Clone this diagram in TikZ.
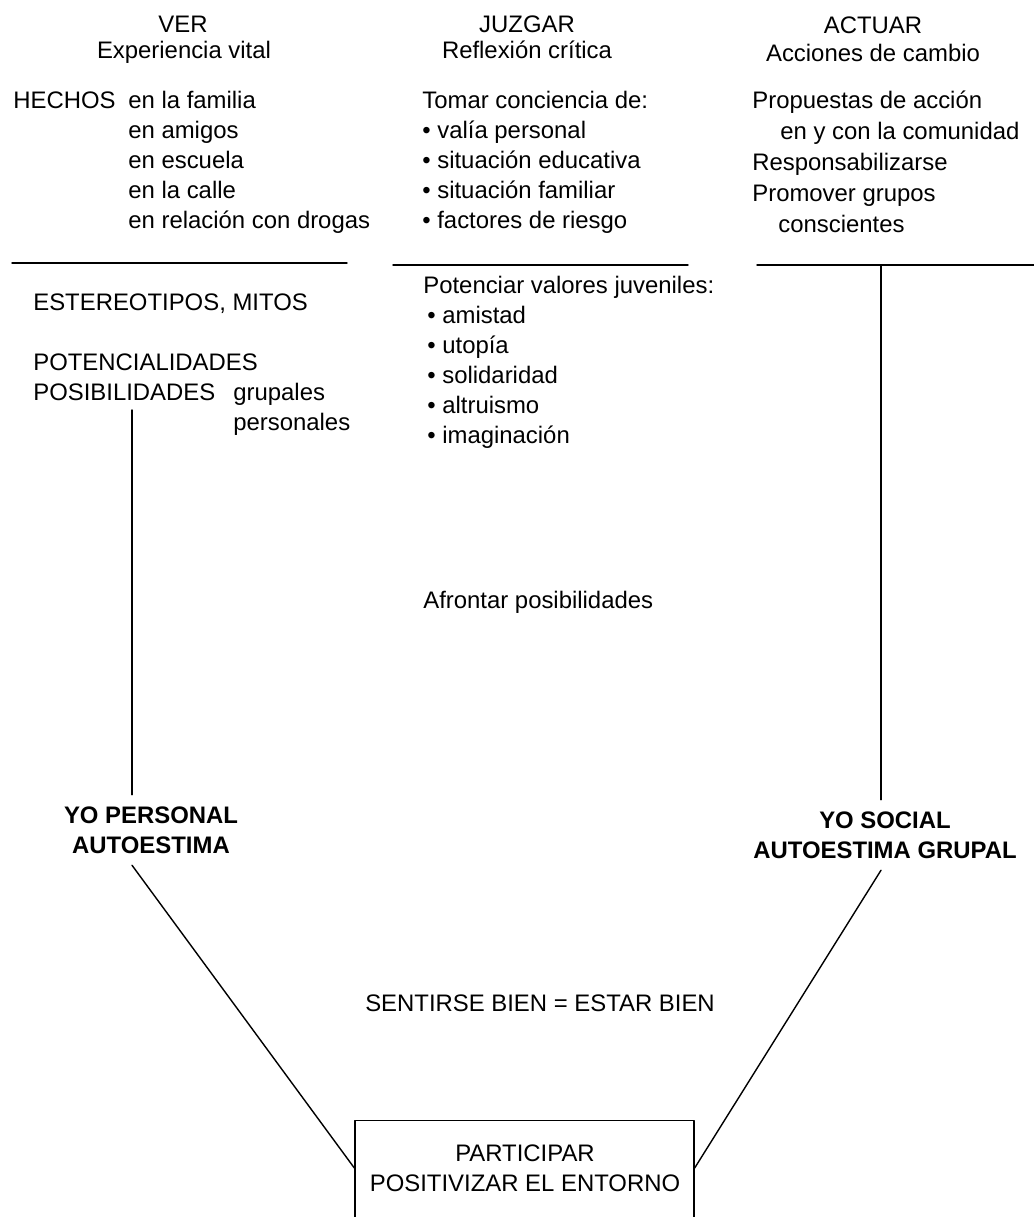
\documentclass[tikz,border=0pt]{standalone}
\usepackage{fontspec}
\setmainfont{Liberation Sans}
\newcommand{\txtfont}{\fontsize{13.6}{17.07}\selectfont}
\tikzset{
  lbl/.style={anchor=base west, inner sep=0pt},
  hd/.style={anchor=base, inner sep=0pt},
  yo/.style={align=center, inner xsep=2pt, inner ysep=6.5pt, font=\txtfont\bfseries},
  rule/.style={line width=0.8pt}
}

\begin{document}
\begin{tikzpicture}[x=0.02cm,y=-0.02cm,line cap=round,line join=round,font=\txtfont]
\useasboundingbox (0,0) rectangle (1034,1217);
\clip (0,0) rectangle (1034,1217);
% headings
\node[hd] (ver) at (183,32) {VER};
\node[hd] (verb) at (184,58) {Experiencia vital};
\node[hd] (juzgar) at (527,32) {JUZGAR};
\node[hd] (juzgarb) at (527,58) {Reflexión crítica};
\node[hd] (actuar) at (873,33) {ACTUAR};
\node[hd] (actuarb) at (873,61) {Acciones de cambio};
% ver
\node[lbl] (hechos) at (13,108.5) {HECHOS};
\foreach \t [count=\i from 0] in {en la familia, en amigos, en escuela, en la calle, en relación con drogas}
  \node[lbl] (hecho\i) at (128,108.5+30*\i) {\t};
\node[lbl] (mitos) at (33,310.5) {ESTEREOTIPOS, MITOS};
\node[lbl] (poten) at (33,370.5) {POTENCIALIDADES};
\node[lbl] (posib) at (33,400.5) {POSIBILIDADES};
\node[lbl] (grup) at (233,400.5) {grupales};
\node[lbl] (pers) at (233,430.5) {personales};
% juzgar
\node[lbl] (tomar) at (422,108.5) {Tomar conciencia de:};
\foreach \t [count=\i from 1] in {valía personal, situación educativa, situación familiar, factores de riesgo}
  \node[lbl] (toma\i) at (422,108.5+30*\i) {• \t};
\node[lbl] (valores) at (423,293) {Potenciar valores juveniles:};
\foreach \t [count=\i from 1] in {amistad, utopía, solidaridad, altruismo, imaginación}
  \node[lbl] (valor\i) at (427,293+30*\i) {• \t};
\node[lbl] (afrontar) at (423,608) {Afrontar posibilidades};
% actuar
\node[lbl] (prop) at (752,108) {Propuestas de acción};
\node[lbl] (comun) at (780,139) {en y con la comunidad};
\node[lbl] (resp) at (752,170) {Responsabilizarse};
\node[lbl] (promo) at (752,201) {Promover grupos};
\node[lbl] (consc) at (778,232) {conscientes};
% separadores
\draw[rule] (12,263) -- (347,263);
\draw[rule] (393,265) -- (688,265);
\draw[rule] (757,265) coordinate (rl) -- (1034,265);
\coordinate (vl) at (132,410);
\coordinate (vr) at (881,265);
% yo
\node[yo] (yoP) at (151,830) {YO PERSONAL\\AUTOESTIMA};
\node[yo] (yoS) at (885,835) {YO SOCIAL\\AUTOESTIMA GRUPAL};
\node[hd] (bien) at (540,1011.5) {SENTIRSE BIEN = ESTAR BIEN};
% participar
\node[draw, rule, anchor=north, minimum width=6.78cm, minimum height=2.8cm] (box) at (524.5,1120) {};
\node[align=center] (part) at (525,1168) {PARTICIPAR\\POSITIVIZAR EL ENTORNO};
\draw[rule] (vl) -- (vl |- yoP.north);
\draw[rule] (vr) -- (vr |- yoS.north);
\draw[rule] (vl |- yoP.south) -- (box.west |- part);
\draw[rule] (vr |- yoS.south) -- (box.east |- part);
\end{tikzpicture}
\end{document}
